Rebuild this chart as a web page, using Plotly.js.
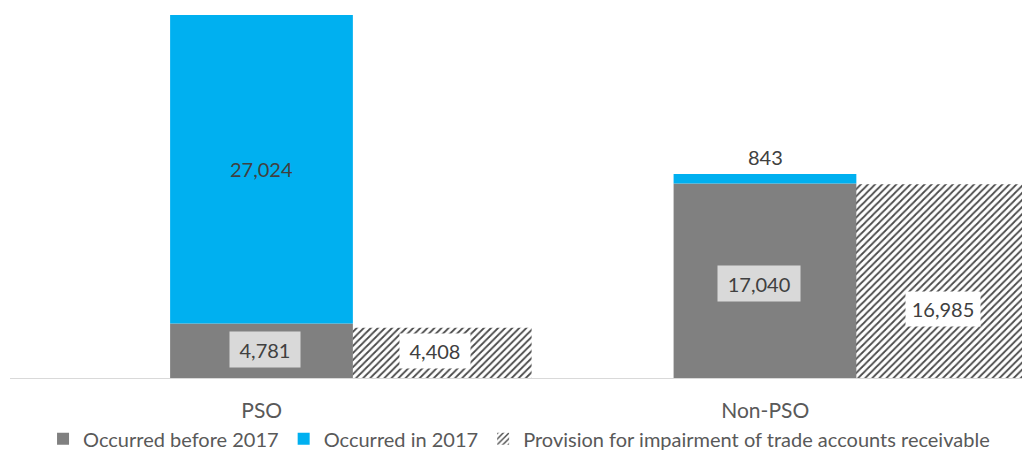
<!DOCTYPE html>
<html>
<head>
<meta charset="utf-8">
<script src="https://cdn.plot.ly/plotly-3.0.1.min.js"></script>
<style>html,body{margin:0;padding:0;background:#fff;}#chart{width:1022px;height:450px;}</style>
</head>
<body>
<div id="chart"></div>
<script>
const categories = ["PSO", "Non-PSO"];
const occurredBefore2017 = [4781, 17040];
const occurredIn2017 = [27024, 843];
const provision = [4408, 16985];
const seriesNames = ["Occurred before 2017", "Occurred in 2017", "Provision for impairment of trade accounts receivable"];

// style-only settings
const FONT = "Lato, 'Open Sans', sans-serif";
const TXT = "#404040";
const stackOffset = -0.182, stackWidth = 0.363;
const provOffset = 0.18, provWidth = 0.356;
const beforeLabelShift = [3, -6];
const beforeLabelYShift = [1, -3];
const beforeBoxWidth = [60, 72];
const provLabelShift = [173, 178];
const provLabelYShift = [2, -28];
const provBoxWidth = [60, 64];

const traces = [
  {
    type: "bar", name: seriesNames[2], x: categories, y: provision,
    offset: provOffset, width: provWidth,
    marker: {color: "#ffffff", line: {width: 0},
      pattern: {shape: "/", fgcolor: "#4a4a4a", bgcolor: "#ffffff", size: 5, solidity: 0.35}},
    hoverinfo: "skip", legendrank: 3
  },
  {
    type: "bar", name: seriesNames[0], x: categories, y: occurredBefore2017,
    offset: stackOffset, width: stackWidth,
    marker: {color: "#808080", line: {width: 0}},
    hoverinfo: "skip", legendrank: 1
  },
  {
    type: "bar", name: seriesNames[1], x: categories, y: occurredIn2017,
    base: occurredBefore2017,
    offset: stackOffset, width: stackWidth,
    marker: {color: "#00b0f0", line: {width: 0}},
    hoverinfo: "skip", legendrank: 2
  }
];

const fmt = v => v.toLocaleString("en-US");
const annotations = [];
categories.forEach((c, i) => {
  annotations.push({
    x: c, y: occurredBefore2017[i] / 2, xref: "x", yref: "y",
    text: fmt(occurredBefore2017[i]), showarrow: false,
    xshift: beforeLabelShift[i], yshift: beforeLabelYShift[i],
    width: beforeBoxWidth[i], height: 25,
    bgcolor: "#d9d9d9", borderpad: 5,
    font: {family: FONT, size: 20, color: TXT}
  });
  if (i === 0) {
    annotations.push({
      x: c, y: occurredBefore2017[i] + occurredIn2017[i] / 2, xref: "x", yref: "y",
      text: fmt(occurredIn2017[i]), showarrow: false,
      font: {family: FONT, size: 20, color: TXT}
    });
  } else {
    annotations.push({
      x: c, y: occurredBefore2017[i] + occurredIn2017[i], xref: "x", yref: "y",
      text: fmt(occurredIn2017[i]), showarrow: false, yanchor: "bottom", yshift: 3,
      font: {family: FONT, size: 20, color: TXT}
    });
  }
  annotations.push({
    x: c, y: provision[i] / 2, xref: "x", yref: "y",
    text: fmt(provision[i]), showarrow: false,
    xshift: provLabelShift[i], yshift: provLabelYShift[i],
    width: provBoxWidth[i], height: 24,
    bgcolor: "#ffffff", borderpad: 5,
    font: {family: FONT, size: 20, color: TXT}
  });
});

const layout = {
  width: 1022, height: 450,
  margin: {l: 10, r: 0, t: 10, b: 72, autoexpand: false},
  paper_bgcolor: "#ffffff", plot_bgcolor: "#ffffff",
  barmode: "overlay",
  showlegend: true,
  legend: {
    orientation: "h", x: 0.503, xanchor: "center",
    yref: "container", y: 0.025, yanchor: "middle",
    bgcolor: "rgba(0,0,0,0)",
    font: {family: FONT, size: 20, color: "#595959"},
    itemwidth: 30, tracegroupgap: 0, traceorder: "normal"
  },
  xaxis: {
    type: "category", range: [-0.5, 1.51],
    showline: true, linecolor: "#d9d9d9", linewidth: 1,
    showgrid: false, zeroline: false, ticks: "",
    ticklabelstandoff: 14,
    tickfont: {family: FONT, size: 21, color: "#595959"},
    fixedrange: true
  },
  yaxis: {
    range: [0, 32243], visible: false, showgrid: false, zeroline: false, fixedrange: true
  },
  annotations: annotations,
  font: {family: FONT}
};

Plotly.newPlot("chart", traces, layout, {displayModeBar: false, staticPlot: true});
</script>
</body>
</html>
